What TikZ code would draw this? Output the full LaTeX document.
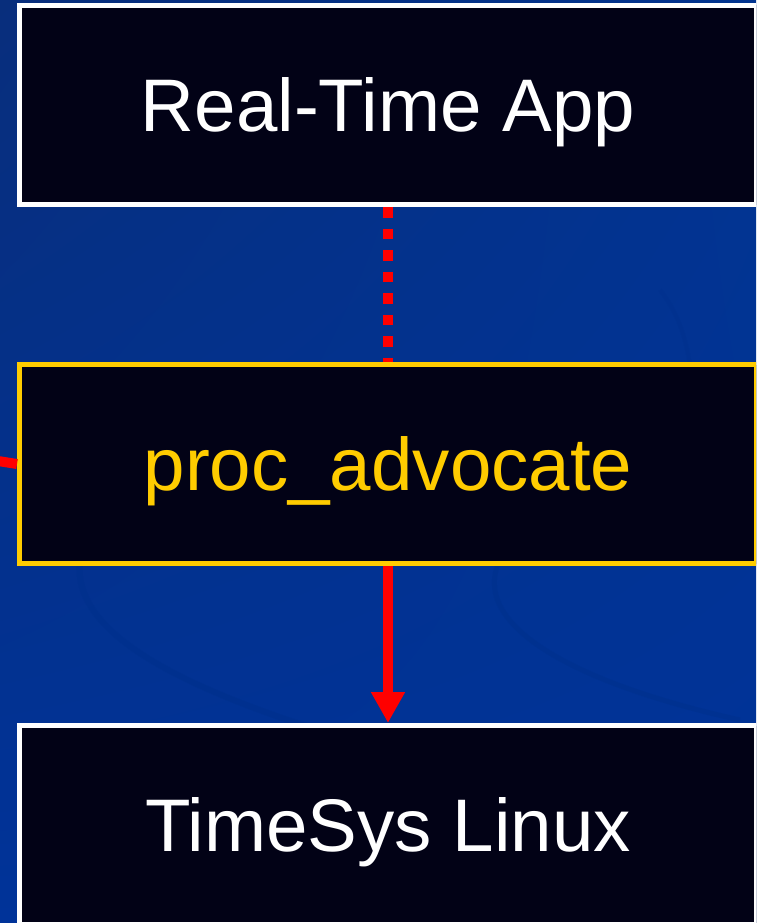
\documentclass[tikz,border=0pt]{standalone}
\usepackage{fontspec}
\setmainfont{Liberation Sans}
\usetikzlibrary{arrows.meta,shadings}
\definecolor{bgblue}{RGB}{0,51,153}
\definecolor{bgdark}{RGB}{8,46,124}
\definecolor{bgmid}{RGB}{2,52,144}
\definecolor{boxfill}{RGB}{2,2,22}
\definecolor{ptyellow}{RGB}{255,204,0}
\definecolor{ptred}{RGB}{255,0,0}
\definecolor{swirl}{RGB}{0,48,140}
\tikzset{
  layerbox/.style={rectangle, draw=white, line width=5pt, fill=boxfill,
    minimum width=737pt, minimum height=199pt, inner sep=0pt,
    text=white, font=\fontsize{74.5}{80}\selectfont,
    text height=53.3pt, text depth=-4pt},
  advbox/.style={layerbox, draw=ptyellow, text=ptyellow},
  redline/.style={draw=ptred, line width=10pt},
}
\begin{document}
\begin{tikzpicture}[x=1pt,y=1pt]
\useasboundingbox (0,0) rectangle (756,-923);
\clip (0,0) rectangle (756,-923);
\shade[upper left=bgdark, upper right=bgmid, lower left=bgblue, lower right=bgblue] (0,0) rectangle (756,-923);
% faint background swirls
\draw[swirl, line width=6pt, opacity=0.6] (80,-560) .. controls (70,-640) and (200,-700) .. (420,-760);
\draw[swirl, line width=5pt, opacity=0.5] (500,-560) .. controls (470,-620) and (560,-680) .. (740,-720);
\draw[swirl, line width=4pt, opacity=0.4] (660,-290) .. controls (700,-340) and (700,-420) .. (680,-560);
% boxes
\node[layerbox] (app) at (388,-105) {Real-Time App};
\node[advbox] (adv) at (388,-464) {proc\_advocate};
\node[layerbox] (lin) at (388,-825) {TimeSys Linux};
% connectors
\draw[redline, dash pattern=on 10.75pt off 10.75pt] (app.south) -- (adv.north);
\draw[redline, -{Triangle[length=31pt,width=32pt]}] (adv.south) -- (lin.north);
\coordinate (leftin) at (-2,-461);
\draw[redline] (leftin) -- (adv.west);
\end{tikzpicture}
\end{document}
